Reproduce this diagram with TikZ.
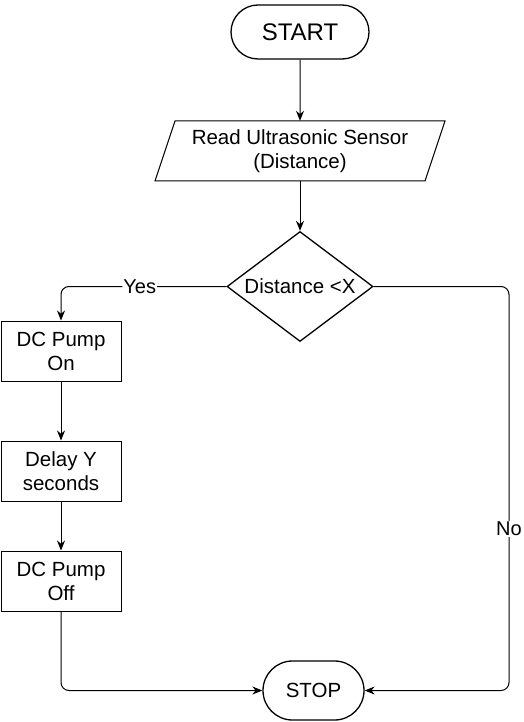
\documentclass[tikz,border=0pt]{standalone}
\usepackage{fontspec}
\setmainfont{Liberation Sans}
\usetikzlibrary{shapes.misc,shapes.geometric,arrows.meta}
\begin{document}
\begin{tikzpicture}[x=1pt,y=-1pt,
  every node/.style={font=\fontsize{20.5}{24}\selectfont, align=center, inner sep=0pt},
  term/.style={draw, rounded rectangle, line width=1.3pt},
  procbox/.style={draw, rectangle, minimum width=120pt, minimum height=60pt, line width=1pt},
  arr/.style={-{Stealth[length=10pt,width=8pt]}, line width=1pt},
  lbl/.style={fill=white, inner sep=1pt, font=\fontsize{20}{23}\selectfont}]
\useasboundingbox (0,0) rectangle (524,722);
\node[term, minimum width=138pt, minimum height=54pt, font=\fontsize{24}{28}\selectfont] (start) at (300,32) {START};
\node[minimum width=270pt, minimum height=60pt] (read) at (300,151) {Read Ultrasonic Sensor\\(Distance)};
\draw[line width=1pt] (175,121) -- (445,121) -- (425,181) -- (155,181) -- cycle;
\node[draw, diamond, aspect=1.33, minimum width=146pt, minimum height=110pt, line width=1.3pt] (dec) at (300,286.5) {Distance <X};
\node[procbox] (on) at (61,351) {DC Pump\\On};
\node[procbox] (delay) at (61,471) {Delay Y\\seconds};
\node[procbox] (off) at (61,581) {DC Pump\\Off};
\node[term, minimum width=101pt, minimum height=59pt] (stop) at (313.5,690.5) {STOP};
\coordinate (rc) at (509,286.5);
\draw[arr] (start) -- (read);
\draw[arr] (read.south) -- (dec.north);
\draw[arr, rounded corners=8pt] (dec.west) -| node[lbl, pos=0.262] {Yes} (on.north);
\draw[arr] (on) -- (delay);
\draw[arr] (delay) -- (off);
\draw[arr, rounded corners=8pt] (off.south) |- (stop.west);
\draw[arr, rounded corners=8pt] (dec.east) -- (rc) |- node[lbl, pos=0.3] {No} (stop.east);
\end{tikzpicture}
\end{document}
